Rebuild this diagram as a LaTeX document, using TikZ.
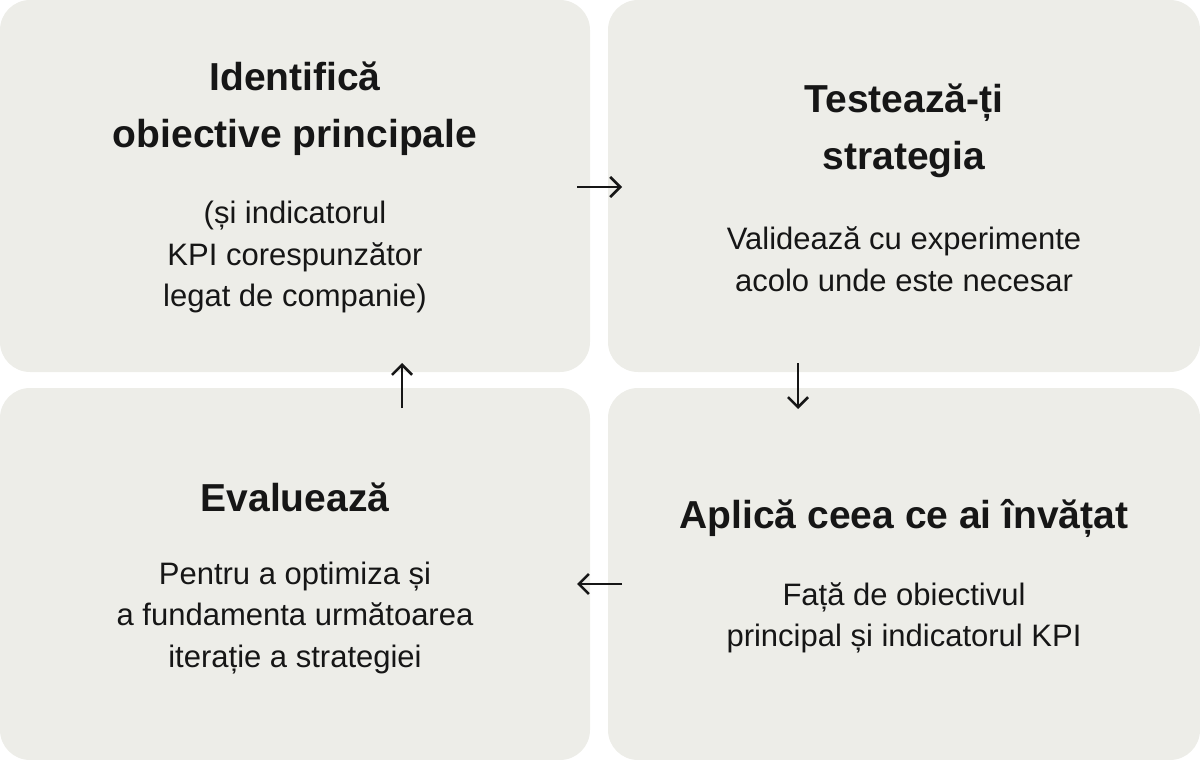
\documentclass[tikz,border=0pt]{standalone}
\usepackage{fontspec}
\setmainfont{Liberation Sans}
\usetikzlibrary{arrows.meta}
\definecolor{boxfill}{HTML}{EDEDE8}
\definecolor{ink}{HTML}{161616}
\tikzset{
  panel/.style={fill=boxfill, draw=none, rounded corners=30pt, inner sep=0pt, minimum width=590pt, minimum height=372pt},
  widepanel/.style={panel, minimum width=592pt},
  titletext/.style={text=ink, align=center, inner sep=0pt, font=\fontsize{39}{57}\selectfont\bfseries},
  bodytext/.style={text=ink, align=center, inner sep=0pt, font=\fontsize{31}{41.5}\selectfont},
  flow/.style={draw=ink, line width=2.6pt, -{Straight Barb[length=10pt, width=20pt, line width=2.6pt]}}
}
\begin{document}
\begin{tikzpicture}[x=1pt, y=-1pt]
\useasboundingbox (0,0) rectangle (1200,760);
\node[panel] (p1) at (295,186) {};
\node[widepanel] (p2) at (904,186) {};
\node[panel] (p3) at (295,574) {};
\node[widepanel] (p4) at (904,574) {};

\node[titletext] (t1) at (295,109) {Identifică\\obiective principale};
\node[bodytext] (b1) at (295,257) {(și indicatorul\\KPI corespunzător\\legat de companie)};

\node[titletext] (t2) at (904,131) {Testează-ți\\strategia};
\node[bodytext] (b2) at (904,259) {Validează cu experimente\\acolo unde este necesar};

\node[titletext] (t3) at (295,497) {Evaluează};
\node[bodytext] (b3) at (295,618) {Pentru a optimiza și\\a fundamenta următoarea\\iterație a strategiei};

\node[titletext] (t4) at (904,518) {Aplică ceea ce ai învățat};
\node[bodytext] (b4) at (904,618) {Față de obiectivul\\principal și indicatorul KPI};

\coordinate (a12s) at (577,187);
\coordinate (a12e) at (622,187);
\coordinate (a24s) at (798,363);
\coordinate (a24e) at (798,409);
\coordinate (a43s) at (622,584);
\coordinate (a43e) at (577,584);
\coordinate (a31s) at (402,408);
\coordinate (a31e) at (402,363);
\draw[flow] (a12s) -- (a12e);
\draw[flow] (a24s) -- (a24e);
\draw[flow] (a43s) -- (a43e);
\draw[flow] (a31s) -- (a31e);
\end{tikzpicture}
\end{document}
